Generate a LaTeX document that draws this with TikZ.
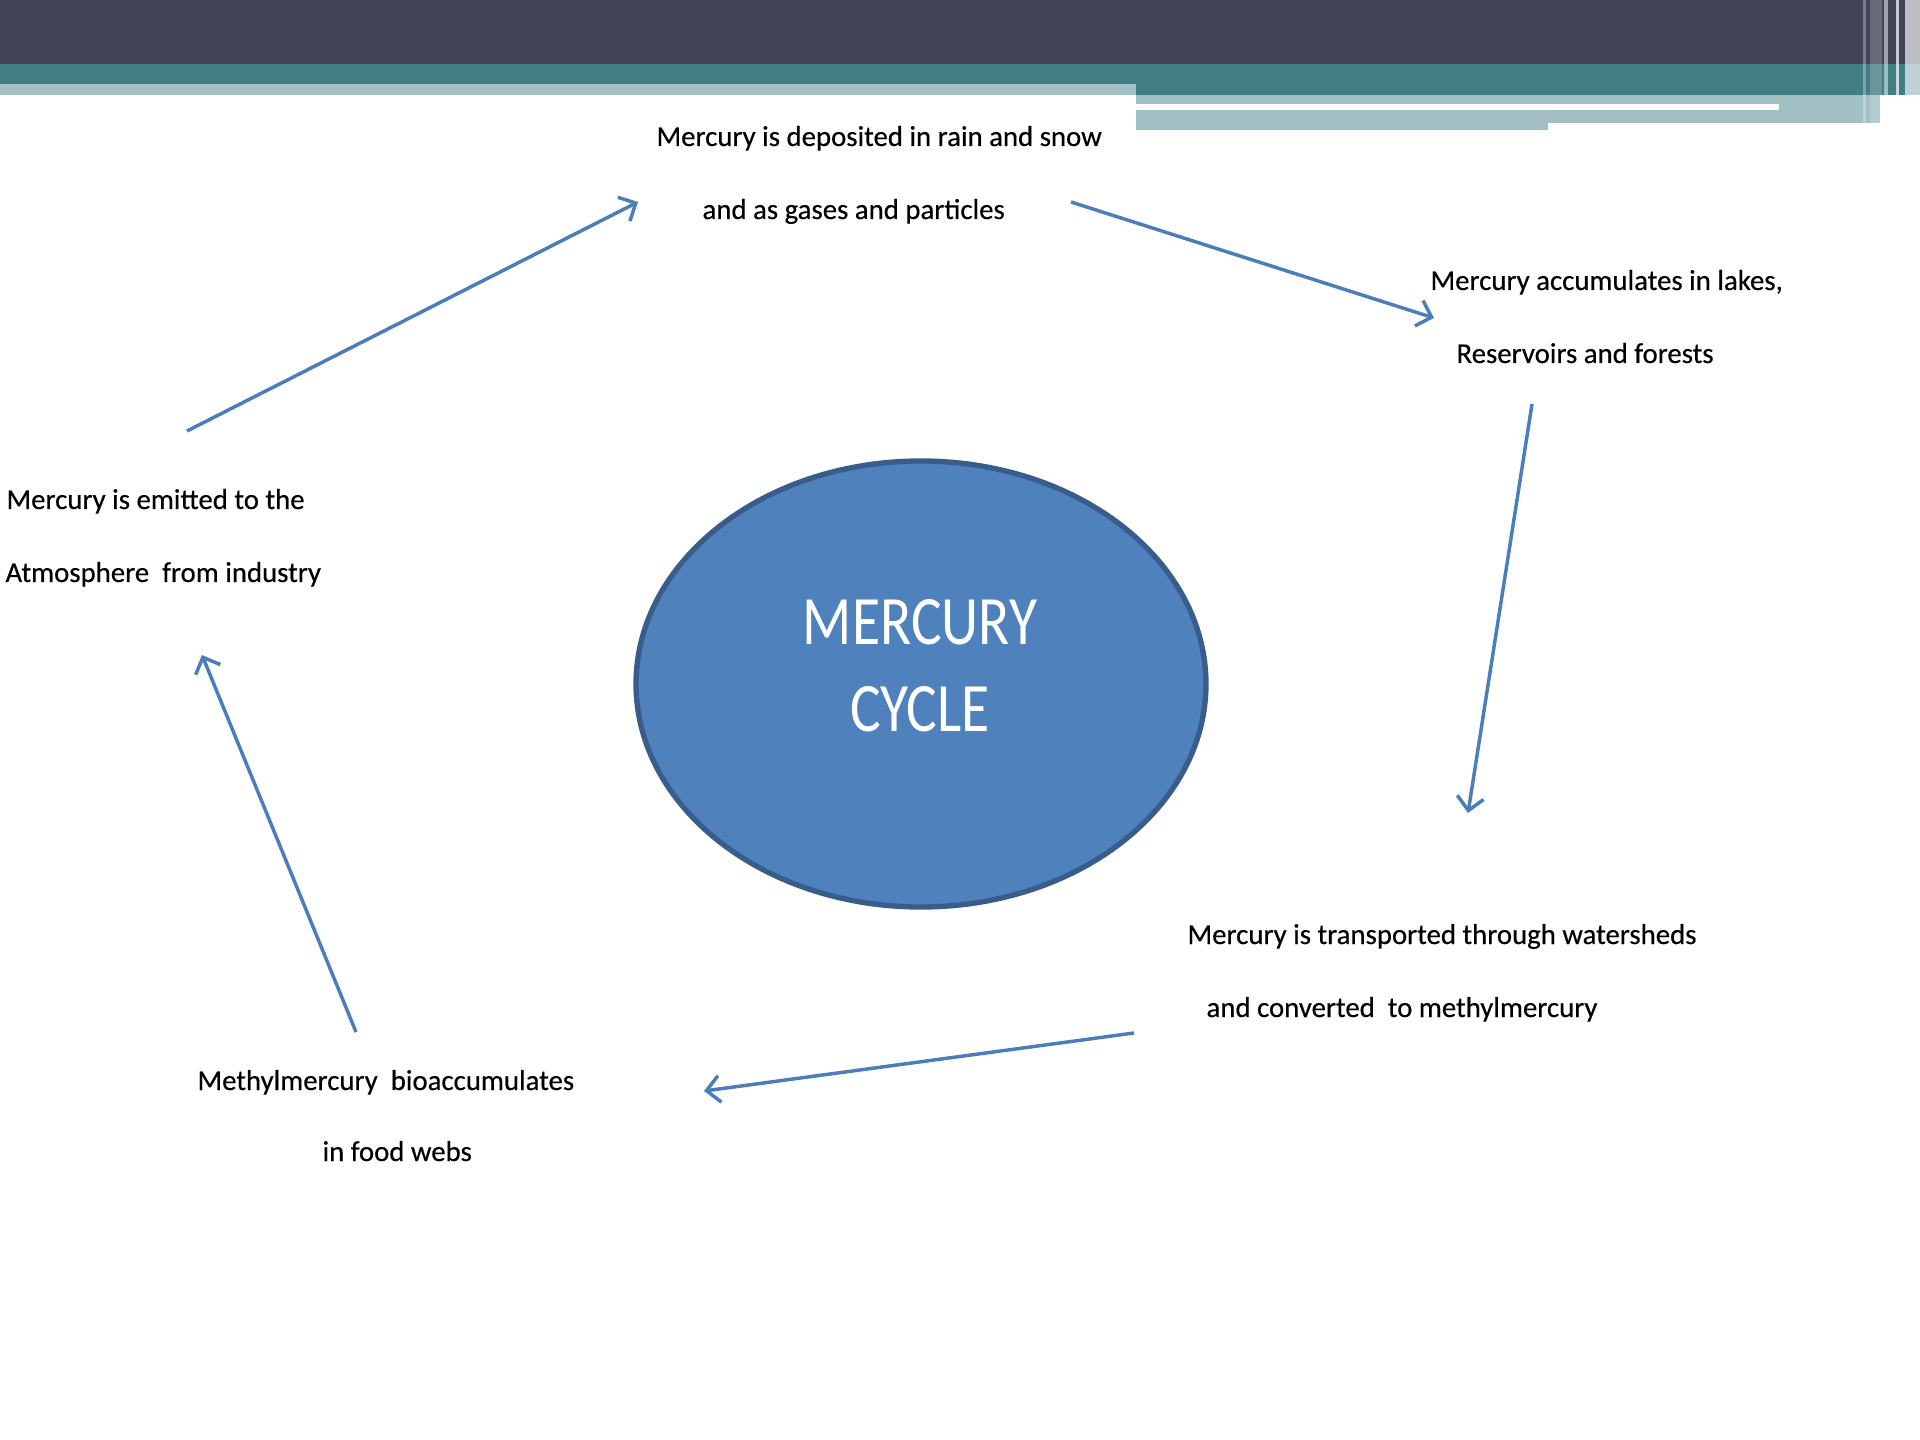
\documentclass[tikz,border=0pt]{standalone}
\usepackage{fontspec}
\setmainfont{Carlito}[FakeBold=0.4]
\newfontfamily\titlefont{Carlito}[FakeStretch=0.83]
\usetikzlibrary{arrows.meta, shapes.geometric}
\definecolor{barDark}{HTML}{424456}
\definecolor{barTeal}{HTML}{427D84}
\definecolor{barLight}{HTML}{A2BFC3}
\definecolor{cycleFill}{HTML}{4F81BD}
\definecolor{cycleLine}{HTML}{385D8A}
\definecolor{flowBlue}{HTML}{4A7DB9}
\begin{document}
\begin{tikzpicture}[x=0.375pt, y=-0.375pt,
        lbl/.style={anchor=base west, inner sep=0pt, font=\fontsize{10.8}{13}\selectfont},
        flow/.style={draw=flowBlue, line width=1.3pt, -{Straight Barb[length=5pt, width=10pt, line width=1.3pt]}},
        cycle/.style={ellipse, fill=cycleFill, draw=cycleLine, line width=2pt, minimum width=213.75pt, minimum height=167.25pt, inner sep=0pt}
    ]
    \useasboundingbox (0,0) rectangle (1920,1440);
    % title bar
    \fill[barDark] (0,0) rectangle (1920,64);
    \fill[barTeal] (0,64) rectangle (1920,95);
    \fill[barLight] (0,84) rectangle (1136,95);
    \fill[barLight] (1136,95) rectangle (1880,130);
    \fill[white] (1136,104) rectangle (1779,110);
    \fill[white] (1548,123) rectangle (1884,130);
    \fill[white, opacity=0.3] (1863,0) rectangle (1866,130);
    \fill[white, opacity=0.2] (1870,0) rectangle (1882,130);
    \fill[white, opacity=0.5] (1884,0) rectangle (1888,130);
    \fill[white, opacity=0.7] (1896,0) rectangle (1899,130);
    \fill[white, opacity=0.65] (1905,0) rectangle (1920,130);

    \node[cycle] (hg) at (921,684) {};
    \node[anchor=base, text=white, font=\titlefont\fontsize{26}{32}\selectfont] (hgA) at (920,645) {MERCURY};
    \node[anchor=base, text=white, font=\titlefont\fontsize{26}{32}\selectfont] (hgB) at (920,731) {CYCLE};

    \node[lbl] (dep1) at (656,146) {Mercury is deposited in rain and snow};
    \node[lbl] (dep2) at (702,219) {and as gases and particles};
    \node[lbl] (acc1) at (1430,290) {Mercury accumulates in lakes,};
    \node[lbl] (acc2) at (1456,363) {Reservoirs and forests};
    \node[lbl] (emit1) at (6,509) {Mercury is emitted to the};
    \node[lbl] (emit2) at (5,582) {Atmosphere~ from industry};
    \node[lbl] (trans1) at (1187,944) {Mercury is transported through watersheds};
    \node[lbl] (trans2) at (1206,1017) {and converted~ to methylmercury};
    \node[lbl] (bio1) at (197,1090) {Methylmercury~ bioaccumulates};
    \node[lbl] (bio2) at (322,1161) {in food webs};

    \coordinate (e1) at (187,431);  \coordinate (d0) at (638,202);
    \coordinate (d1) at (1071,202); \coordinate (a0) at (1434,318);
    \coordinate (a1) at (1532,404); \coordinate (t0) at (1468,813);
    \coordinate (t1) at (1134,1033); \coordinate (b0) at (704,1091);
    \coordinate (b1) at (356,1032); \coordinate (e0) at (202,655);

    \draw[flow] (e1) -- (d0);
    \draw[flow] (d1) -- (a0);
    \draw[flow] (a1) -- (t0);
    \draw[flow] (t1) -- (b0);
    \draw[flow] (b1) -- (e0);
\end{tikzpicture}
\end{document}
